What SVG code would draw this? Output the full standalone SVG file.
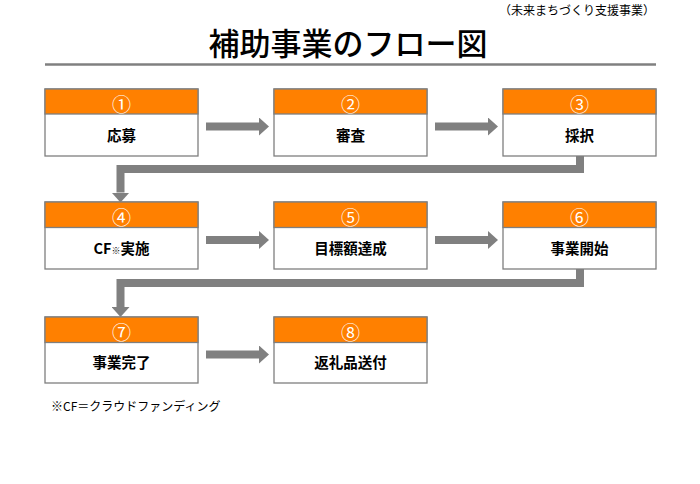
<svg xmlns="http://www.w3.org/2000/svg" width="700" height="484" viewBox="0 0 700 484">
<defs>
<style>
.jp{font-family:"Noto Sans CJK JP","Liberation Sans",sans-serif;}
.body{fill:#fff;stroke:#7f7f7f;stroke-width:1.3;}
.head{fill:#ff8000;stroke:#7f7f7f;stroke-width:1.3;}
.num{font-family:"Noto Sans CJK JP",sans-serif;font-size:19px;fill:#fff;text-anchor:middle;}
.lbl{font-family:"Noto Sans CJK JP",sans-serif;font-size:14.5px;font-weight:bold;fill:#000;text-anchor:middle;}
.conn{fill:none;stroke:#808080;stroke-width:8;stroke-linejoin:miter;stroke-linecap:butt;marker-end:url(#ah);}
</style>
<marker id="ah" markerUnits="userSpaceOnUse" markerWidth="10" markerHeight="18" refX="0" refY="9" orient="auto">
<path d="M0,0 L10,9 L0,18 Z" fill="#808080"/>
</marker>
</defs>
<rect width="700" height="484" fill="#fff"/>
<text class="jp" x="655" y="15" font-size="12" text-anchor="end" fill="#000">（未来まちづくり支援事業）</text>
<text class="jp" x="348" y="55" font-size="31" font-weight="500" text-anchor="middle" fill="#000">補助事業のフロー図</text>
<line x1="45" y1="64.5" x2="656" y2="64.5" stroke="#808080" stroke-width="2.5"/>

<g id="connectors">
<path class="conn" d="M206,126.5 H259"/>
<path class="conn" d="M435,126.5 H488"/>
<path class="conn" d="M580,156 V169 H120.5 V192.5"/>
<path class="conn" d="M206,240 H259"/>
<path class="conn" d="M435,240 H488"/>
<path class="conn" d="M580,269 V283 H120.5 V307"/>
<path class="conn" d="M206,354.5 H259"/>
</g>

<g id="node1">
<rect class="body" x="45" y="89" width="153" height="67"/>
<rect class="head" x="45" y="89" width="153" height="25"/>
<text class="num" x="121.5" y="111.5">①</text>
<text class="lbl" x="121.5" y="140.5">応募</text>
</g>
<g id="node2">
<rect class="body" x="274" y="89" width="153" height="67"/>
<rect class="head" x="274" y="89" width="153" height="25"/>
<text class="num" x="350.5" y="111.5">②</text>
<text class="lbl" x="350.5" y="140.5">審査</text>
</g>
<g id="node3">
<rect class="body" x="503" y="89" width="153" height="67"/>
<rect class="head" x="503" y="89" width="153" height="25"/>
<text class="num" x="579.5" y="111.5">③</text>
<text class="lbl" x="579.5" y="140.5">採択</text>
</g>

<g id="node4">
<rect class="body" x="45" y="202" width="153" height="67"/>
<rect class="head" x="45" y="202" width="153" height="25.5"/>
<text class="num" x="121.5" y="224.5">④</text>
<text class="lbl" x="121.5" y="253.5">CF<tspan font-size="9" font-weight="normal">※</tspan>実施</text>
</g>
<g id="node5">
<rect class="body" x="274" y="202" width="153" height="67"/>
<rect class="head" x="274" y="202" width="153" height="25.5"/>
<text class="num" x="350.5" y="224.5">⑤</text>
<text class="lbl" x="350.5" y="253.5">目標額達成</text>
</g>
<g id="node6">
<rect class="body" x="503" y="202" width="153" height="67"/>
<rect class="head" x="503" y="202" width="153" height="25.5"/>
<text class="num" x="579.5" y="224.5">⑥</text>
<text class="lbl" x="579.5" y="253.5">事業開始</text>
</g>

<g id="node7">
<rect class="body" x="45" y="317" width="153" height="66"/>
<rect class="head" x="45" y="317" width="153" height="25.5"/>
<text class="num" x="121.5" y="339.5">⑦</text>
<text class="lbl" x="121.5" y="368">事業完了</text>
</g>
<g id="node8">
<rect class="body" x="274" y="317" width="153" height="66"/>
<rect class="head" x="274" y="317" width="153" height="25.5"/>
<text class="num" x="350.5" y="339.5">⑧</text>
<text class="lbl" x="350.5" y="368">返礼品送付</text>
</g>

<text class="jp" x="51" y="411" font-size="12" fill="#000">※CF＝クラウドファンディング</text>
</svg>
